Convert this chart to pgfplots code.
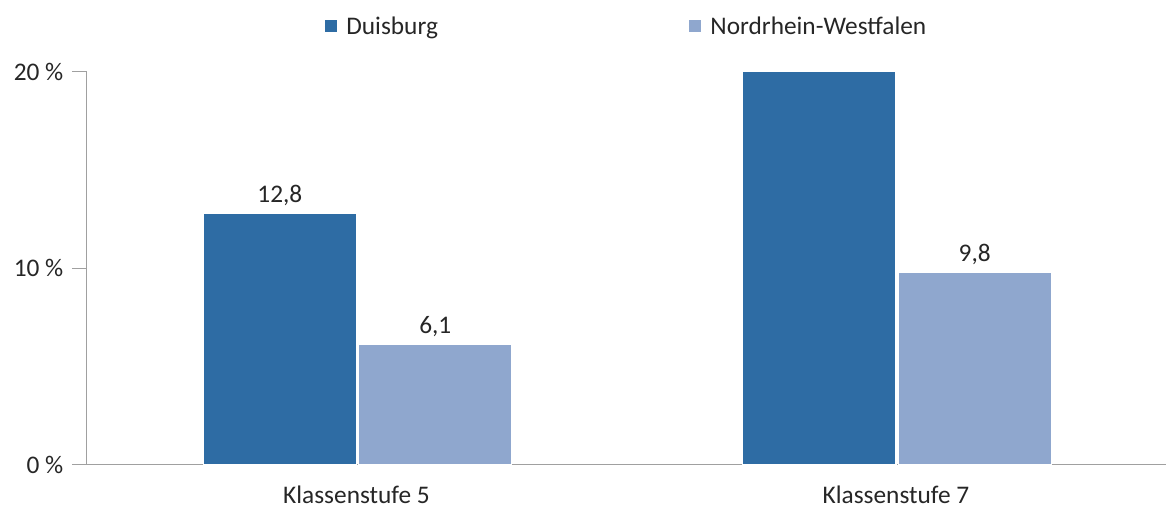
\documentclass[border=0pt]{standalone}
\usepackage{pgfplots}
\pgfplotsset{compat=1.18}
\usepackage{fontspec}
\setmainfont{Carlito}

\definecolor{duis}{HTML}{2E6CA4}
\definecolor{nrw}{HTML}{8FA7CE}
\definecolor{axisgray}{HTML}{A0A0A0}
\definecolor{txt}{HTML}{262626}

\begin{document}
\begin{tikzpicture}
\begin{axis}[
  scale only axis,
  width=1082bp, height=394bp,
  xmin=-0.5, xmax=1.5,
  ymin=0, ymax=20,
  clip=true,
  axis x line=bottom, axis y line=left,
  axis line style={draw=axisgray, line width=1.3bp, -},
  tick align=outside,
  xtick={0,1},
  xticklabels={Klassenstufe 5, Klassenstufe 7},
  major x tick style={draw=none},
  extra x ticks={-0.5,0.5,1.5},
  extra x tick labels={},
  extra x tick style={tick style={draw=axisgray, line width=1.3bp}, major tick length=9bp},
  ytick={0,10,20},
  yticklabels={0 \%, 10 \%, 20 \%},
  major y tick style={draw=axisgray, line width=1.3bp},
  major tick length=15bp,
  ticklabel style={font=\fontsize{25.5}{30}\selectfont, text=txt},
  xticklabel style={inner ysep=0pt, yshift=-6bp},
  yticklabel style={xshift=-5bp},
  ybar, bar width=0.284,
  every axis plot/.append style={draw=white, line width=1.2bp},
  point meta=explicit symbolic,
  nodes near coords,
  nodes near coords style={font=\fontsize{25.5}{30}\selectfont, text=txt, yshift=4bp},
  legend columns=2,
  legend style={at={(0.5,1)}, anchor=south, yshift=32bp, draw=none, fill=none,
    font=\fontsize{25.5}{30}\selectfont, text=txt,
    /tikz/every even column/.append style={column sep=249bp}},
  legend image code/.code={\path (0bp,0bp) -- (19bp,0bp);
    \fill[#1, draw=none] (0bp,-6bp) rectangle (12bp,6bp);},
]
\addplot[fill=duis, bar shift=-0.142] coordinates {(0,12.8) [12,8] (1,20) []};
\addplot[fill=nrw, bar shift=0.146] coordinates {(0,6.1) [6,1] (1,9.8) [9,8]};
\legend{Duisburg, Nordrhein-Westfalen}
\end{axis}
\path (-87bp,-42bp) rectangle (1082bp,466bp);
\end{tikzpicture}
\end{document}
